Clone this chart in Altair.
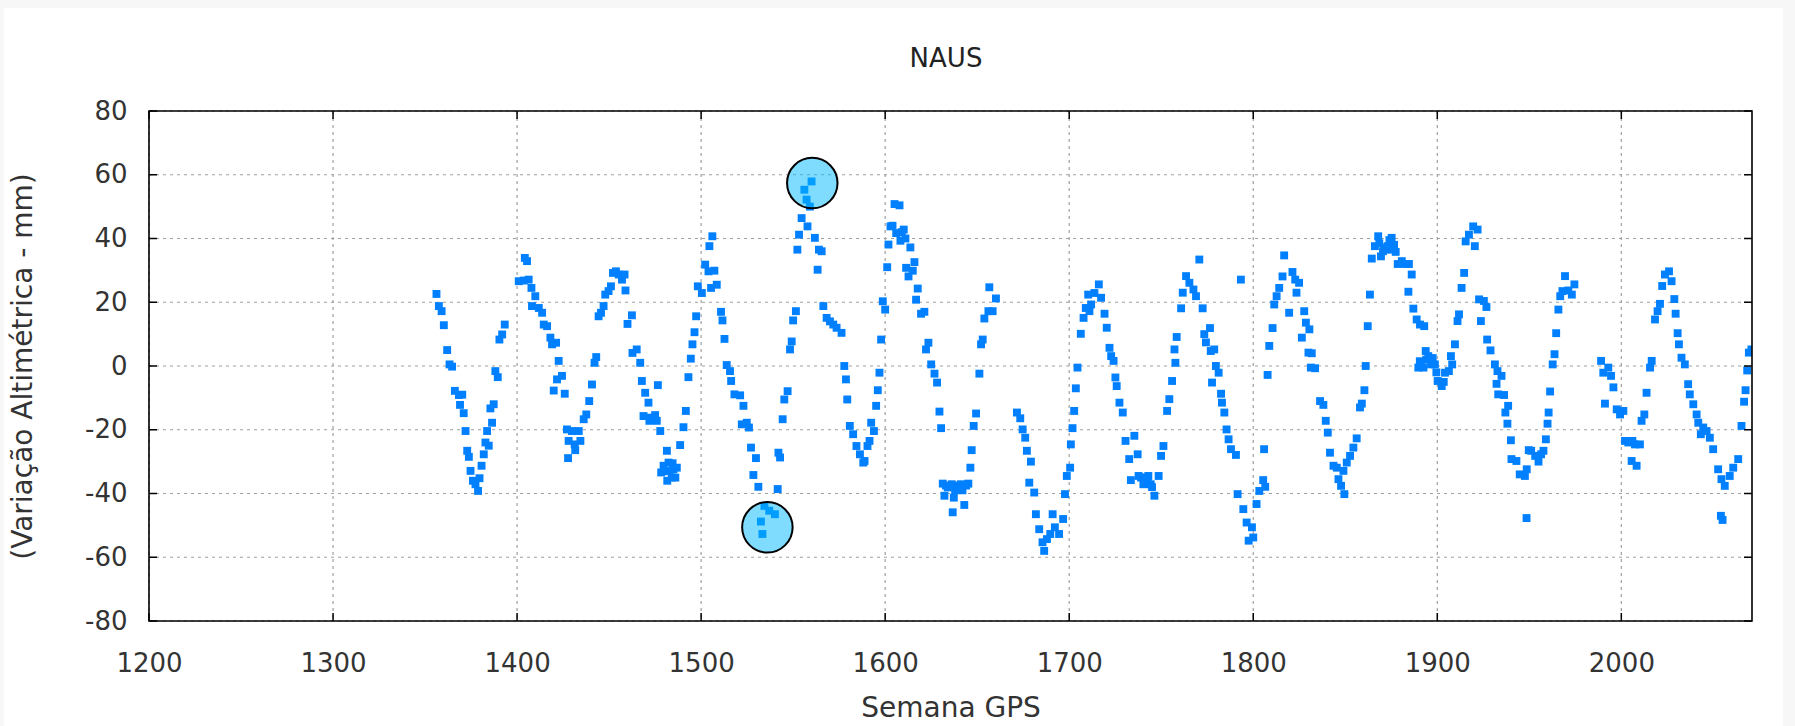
import altair as alt
import pandas as pd

# ---------------- data ----------------
title_text = ["NAUS"]

weeks = [
    1356.2, 1357.5, 1359.0, 1360.2, 1362.0, 1363.3, 1364.7, 1366.2, 1368.4, 1369.0,
    1370.2, 1371.0, 1372.0, 1372.9, 1373.8, 1374.7, 1376.0, 1377.4, 1378.8, 1379.6,
    1380.7, 1381.9, 1382.8, 1383.7, 1384.6, 1385.5, 1386.4, 1387.3, 1388.2, 1389.5,
    1390.4, 1391.9, 1393.3, 1400.9, 1403.6, 1404.2, 1405.4, 1406.3, 1407.8, 1408.1,
    1409.9, 1411.8, 1413.6, 1414.5, 1416.3, 1418.1, 1419.0, 1419.9, 1421.2, 1421.7,
    1422.6, 1424.4, 1425.9, 1427.1, 1427.7, 1428.0, 1429.8, 1431.3, 1431.6, 1433.5,
    1434.4, 1436.2, 1437.6, 1439.2, 1440.7, 1442.1, 1443.0, 1444.3, 1445.6, 1447.0,
    1447.9, 1449.7, 1451.0, 1452.1, 1453.7, 1455.2, 1457.0, 1458.4, 1458.9, 1460.0,
    1462.4, 1462.7, 1465.0, 1466.9, 1467.8, 1468.7, 1469.6, 1471.4, 1471.9, 1472.3,
    1475.0, 1475.9, 1476.5, 1477.8, 1478.3, 1479.6, 1481.4, 1481.6, 1482.3, 1484.1,
    1485.0, 1486.8, 1488.6, 1490.4, 1491.7, 1493.1, 1494.4, 1495.3, 1496.4, 1497.3,
    1498.2, 1500.4, 1502.2, 1504.0, 1504.5, 1505.4, 1506.1, 1507.2, 1508.5, 1510.8,
    1511.6, 1512.7, 1513.9, 1515.7, 1516.3, 1518.1, 1521.2, 1522.1, 1523.0, 1524.8,
    1526.0, 1527.1, 1528.4, 1529.8, 1531.1, 1532.5, 1533.3, 1534.4, 1537.0, 1540.1,
    1541.6, 1542.0, 1542.9, 1544.3, 1545.2, 1547.0, 1548.3, 1549.2, 1550.0, 1551.5,
    1552.3, 1553.2, 1554.6, 1556.1, 1557.3, 1557.8, 1559.1, 1560.0, 1561.8, 1563.3,
    1564.0, 1565.5, 1566.4, 1568.2, 1570.0, 1571.8, 1573.6, 1576.3, 1577.8, 1578.7,
    1579.4, 1580.8, 1582.6, 1584.4, 1586.3, 1588.1, 1588.8, 1590.4, 1591.5, 1592.4,
    1593.9, 1595.1, 1596.0, 1596.9, 1597.8, 1598.7, 1600.0, 1601.1, 1601.8, 1602.9,
    1605.1, 1606.0, 1607.8, 1608.3, 1610.1, 1611.4, 1612.7, 1613.7, 1615.0, 1615.9,
    1616.8, 1617.7, 1619.5, 1621.3, 1622.2, 1623.5, 1625.0, 1626.8, 1628.2, 1629.5,
    1630.4, 1631.3, 1632.2, 1634.0, 1636.2, 1636.7, 1637.3, 1639.1, 1641.2, 1643.0,
    1645.2, 1646.3, 1647.0, 1648.1, 1649.4, 1651.2, 1652.1, 1653.0, 1653.9, 1656.1,
    1656.6, 1658.4, 1660.2, 1671.6, 1673.4, 1674.7, 1676.1, 1677.0, 1678.3, 1679.2,
    1681.0, 1681.9, 1683.7, 1685.5, 1686.4, 1687.9, 1689.7, 1691.0, 1692.2, 1694.5,
    1696.7, 1697.7, 1698.7, 1700.5, 1700.9, 1701.8, 1702.7, 1703.6, 1704.5, 1706.3,
    1707.8, 1709.0, 1710.3, 1711.0, 1711.9, 1713.7, 1716.1, 1717.3, 1719.2, 1720.4,
    1721.9, 1722.8, 1724.1, 1725.1, 1725.8, 1727.3, 1729.1, 1730.6, 1732.6, 1733.5,
    1735.4, 1737.2, 1737.7, 1740.3, 1742.6, 1744.3, 1746.3, 1748.6, 1749.9, 1751.2,
    1753.2, 1754.4, 1755.9, 1757.2, 1757.7, 1758.4, 1760.8, 1761.7, 1763.5, 1765.3,
    1767.5, 1768.9, 1770.7, 1772.5, 1773.4, 1774.3, 1776.5, 1776.9, 1777.6, 1778.8,
    1779.7, 1781.2, 1782.5, 1783.0, 1784.3, 1785.5, 1786.6, 1787.9, 1790.6, 1791.5,
    1793.3, 1794.6, 1796.4, 1797.5, 1799.3, 1800.0, 1801.8, 1803.3, 1805.4, 1805.9,
    1806.5, 1807.8, 1808.7, 1810.5, 1811.4, 1812.7, 1814.1, 1815.9, 1816.8, 1819.5,
    1821.3, 1822.8, 1823.5, 1824.9, 1826.4, 1827.7, 1828.6, 1830.0, 1830.5, 1831.3,
    1831.8, 1833.6, 1836.3, 1838.1, 1839.4, 1840.5, 1841.7, 1843.6, 1845.4, 1846.3,
    1847.7, 1849.0, 1849.5, 1850.8, 1852.6, 1854.4, 1856.2, 1858.0, 1859.0, 1860.4,
    1861.1, 1862.2, 1863.4, 1864.4, 1866.1, 1867.9, 1869.4, 1871.2, 1873.1, 1875.2,
    1875.6, 1877.4, 1878.5, 1880.7, 1882.5, 1884.3, 1884.6, 1886.1, 1887.0, 1888.8,
    1889.7, 1890.6, 1891.1, 1892.9, 1893.7, 1895.1, 1896.6, 1898.7, 1900.2, 1902.4,
    1904.2, 1906.3, 1907.4, 1908.1, 1909.6, 1911.0, 1911.8, 1913.2, 1914.6, 1915.4,
    1917.2, 1919.5, 1920.4, 1921.9, 1922.7, 1923.7, 1925.3, 1926.7, 1927.1, 1928.9,
    1931.3, 1932.2, 1932.7, 1933.1, 1934.9, 1936.3, 1937.0, 1938.1, 1938.5, 1940.0,
    1940.3, 1943.0, 1944.8, 1947.6, 1948.5, 1948.6, 1949.7, 1951.0, 1953.2, 1955.0,
    1956.4, 1957.7, 1959.0, 1959.9, 1960.5, 1961.3, 1962.7, 1963.7, 1964.6, 1965.8,
    1966.8, 1968.0, 1969.4, 1971.2, 1973.1, 1974.5, 1989.0, 1990.2, 1991.1, 1992.9,
    1994.4, 1995.7, 1997.5, 1999.3, 2001.1, 2002.0, 2003.8, 2005.6, 2006.0, 2007.4,
    2008.3, 2010.1, 2011.0, 2012.5, 2013.7, 2015.6, 2016.5, 2018.3, 2019.7, 2021.0,
    2022.2, 2023.7, 2025.9, 2027.3, 2028.8, 2029.5, 2030.6, 2031.3, 2032.7, 2034.5,
    2036.3, 2037.2, 2039.1, 2040.9, 2041.8, 2043.2, 2044.5, 2046.3, 2048.1, 2049.9,
    2052.6, 2054.1, 2054.4, 2055.0, 2056.2, 2058.9, 2060.8, 2063.5, 2065.3, 2066.7,
    2067.5, 2068.4, 2069.3, 2070.7,
]
values = [
    22.6, 18.8, 17.2, 12.8, 5.0, 0.5, -0.2, -7.8, -9.1, -12.2,
    -9.0, -14.8, -20.4, -26.6, -28.5, -32.9, -36.0, -37.1, -39.2, -35.2,
    -31.3, -27.7, -24.0, -20.4, -25.0, -13.3, -17.8, -12.0, -1.6, -3.5,
    8.3, 9.9, 13.0, 26.6, 26.8, 33.9, 32.9, 27.1, 24.5, 18.8,
    21.9, 18.2, 16.7, 13.0, 12.5, 8.9, 6.8, -7.7, 7.3, -4.2,
    1.6, -3.1, -8.7, -19.9, -28.9, -23.5, -20.4, -24.6, -26.4, -20.4,
    -23.5, -16.7, -15.2, -11.0, -5.8, 1.0, 2.8, 15.6, 16.7, 18.8,
    22.4, 23.5, 25.0, 29.2, 29.7, 28.7, 27.1, 28.7, 23.7, 13.2,
    15.9, 4.1, 5.2, 1.0, -4.7, -15.7, -8.4, -11.5, -17.2, -16.2,
    -15.4, -17.2, -6.0, -20.4, -33.4, -31.3, -26.6, -36.0, -30.3, -35.0,
    -32.4, -31.9, -24.8, -19.2, -14.1, -3.5, 2.3, 6.8, 10.6, 15.6,
    25.0, 22.9, 31.8, 29.7, 37.6, 24.5, 40.7, 29.9, 25.5, 17.0,
    14.3, 8.5, 0.3, -1.6, -4.7, -8.9, -9.2, -18.3, -12.5, -17.8,
    -19.3, -25.6, -34.2, -28.9, -37.9, -48.8, -52.7, -43.9, -45.4, -46.5,
    -38.6, -27.2, -28.7, -16.7, -10.5, -7.9, 5.2, 7.7, 14.3, 17.2,
    36.5, 41.2, 46.4, 55.3, 52.2, 43.8, 50.0, 57.9, 40.2, 30.2,
    36.5, 36.0, 18.8, 15.1, 14.0, 13.0, 12.0, 10.4, 0.0, -4.2,
    -10.5, -18.8, -21.4, -25.1, -27.7, -30.3, -29.8, -25.1, -23.5, -17.8,
    -20.4, -12.5, -7.6, -2.1, 8.3, 20.3, 17.7, 31.0, 38.1, 43.8,
    50.8, 41.7, 50.4, 39.3, 42.8, 30.8, 28.1, 37.2, 29.9, 32.6,
    20.8, 24.3, 16.4, 17.0, 5.2, 7.3, 0.5, -2.4, -5.2, -14.3,
    -19.5, -36.9, -40.7, -38.1, -37.1, -45.9, -41.3, -38.6, -37.1, -43.6,
    -36.9, -31.9, -26.4, -18.8, -14.9, -2.4, 6.8, 8.3, 14.9, 17.2,
    24.7, 17.2, 21.2, -14.6, -16.4, -19.9, -22.5, -26.6, -36.6, -30.0,
    -39.7, -46.5, -51.2, -55.3, -58.0, -54.3, -52.7, -46.5, -50.6, -52.7,
    -48.0, -40.2, -34.5, -31.9, -24.6, -19.5, -14.1, -7.0, -0.5, 10.1,
    15.1, 18.2, 22.4, 17.2, 19.3, 22.9, 25.6, 21.4, 16.4, 12.0,
    5.7, 3.1, 1.6, -3.6, -6.3, -11.5, -14.6, -23.5, -29.2, -35.8,
    -21.9, -27.7, -34.5, -37.1, -36.0, -37.1, -40.7, -34.5, -28.2, -25.1,
    -14.1, -10.4, -4.7, 5.2, 1.0, 9.1, 18.1, 23.0, 28.2, 26.1,
    24.0, 21.9, 33.4, 18.1, 10.0, 7.4, 11.9, 4.7, -5.2, 5.2,
    0.0, -2.1, -8.7, -11.5, -14.6, -19.9, -23.0, -26.1, -27.9, -40.2,
    27.1, -44.9, -49.1, -54.8, -50.6, -53.8, -43.3, -39.2, -35.8, -26.1,
    -37.9, -2.8, 6.3, 11.9, 19.3, 21.9, 24.5, 28.1, 34.7, 16.7,
    29.5, 27.1, 23.0, 26.1, 8.9, 17.2, 13.6, 4.2, 11.5, -0.5,
    4.0, -0.7, -11.0, -12.2, -17.2, -20.9, -27.2, -31.3, -31.9, -35.5,
    -37.6, -32.9, -40.2, -30.3, -28.2, -25.6, -22.7, -13.0, -11.8, -7.6,
    0.0, 12.5, 22.4, 33.7, 37.6, 40.7, 34.4, 37.2, 37.6, 40.2,
    36.5, 35.8, 32.0, 32.9, 32.0, 23.3, 32.0, 28.7, 18.0, 14.6,
    -0.5, 13.0, 0.7, 12.5, 4.7, 3.1, 0.5, 0.5, -4.7, -6.3,
    -2.1, -1.6, 3.1, 0.5, 6.8, 14.1, 16.2, 24.5, 29.2, 39.1,
    41.2, 43.8, 37.6, 42.8, 20.9, 14.1, 20.4, 18.5, 8.3, 4.9,
    0.5, -5.6, -1.6, -8.9, -3.1, -9.1, -14.6, -18.1, -12.5, -23.3,
    -29.2, -29.8, -34.0, -34.5, -47.7, -32.4, -26.4, -26.6, -28.2, -30.0,
    -27.7, -26.6, -23.0, -18.1, -14.6, -8.0, 0.5, 3.7, 10.3, 17.7,
    21.9, 23.5, 28.2, 23.7, 22.4, 25.6, 1.6, -2.1, -11.8, -0.5,
    -3.1, -6.7, -13.6, -15.2, -14.1, -23.5, -24.0, -29.8, -23.5, -24.6,
    -31.3, -24.6, -17.2, -15.2, -8.4, -0.5, 1.6, 14.6, 17.2, 19.5,
    25.1, 28.7, 29.7, 26.6, 21.0, 16.4, 10.3, 6.8, 2.6, 0.5,
    -5.7, -8.9, -12.0, -15.2, -17.8, -21.4, -19.3, -20.4, -22.5, -26.1,
    -32.4, -47.0, -35.5, -48.3, -37.6, -34.5, -31.9, -29.2, -18.8, -11.2,
    -7.6, -1.4, 4.2, 5.2,
]

# extra points inside the dense clusters
cluster_weeks = [
    1480.5, 1483.0, 1484.5, 1486.0, 1604.0, 1609.0, 1611.0,
    1633.0, 1638.0, 1640.0, 1642.0, 1644.0, 1739.0, 1741.0, 1743.0, 1745.0,
    1868.5, 1870.5, 1872.0, 1874.0, 1876.5, 1890.5, 1892.5, 1894.0, 1897.5,
    1899.5, 1903.5,
]
cluster_values = [
    -33.0, -33.0, -30.5, -35.0, 44.0, 42.0, 40.0,
    -37.5, -39.0, -37.5, -39.0, -37.5, -35.0, -35.0, -34.5, -38.0,
    38.5, 36.0, 36.5, 39.5, 38.0, 1.5, -0.5, 2.0, 2.5,
    -2.0, -5.0,
]

circle_weeks = [1560.4, 1536.0]
circle_values = [57.4, -50.6]

x_ticks = [1200, 1300, 1400, 1500, 1600, 1700, 1800, 1900, 2000]
y_ticks = [-80, -60, -40, -20, 0, 20, 40, 60, 80]

x_title = "Semana GPS"
y_title = "(Variação Altimétrica - mm)"

# ---------------- layout / style ----------------
W, H = 1603, 510
PAD_L, PAD_T, PAD_R, PAD_B = 149, 111, 43, 105
FONT = "DejaVu Sans"
TXT = "#333333"
EDGE = "#f7f7f7"

pts = pd.DataFrame({"week": weeks + cluster_weeks, "val": values + cluster_values})
circ = pd.DataFrame({"week": circle_weeks, "val": circle_values})
xt = pd.DataFrame({"week": x_ticks})
yt = pd.DataFrame({"val": y_ticks})
one = pd.DataFrame({"k": [0]})
ttl = pd.DataFrame({"t": title_text})

xscale = alt.Scale(domain=[1200, 2071], nice=False, zero=False)
yscale = alt.Scale(domain=[-80, 80], nice=False, zero=False)

xaxis = alt.Axis(
    values=x_ticks, labelExpr="'' + datum.value", ticks=False, domain=False, grid=False,
    labelFont=FONT, labelFontSize=26, labelColor=TXT, labelPadding=29,
    labelFlush=False, labelOverlap=False,
    titleFont=FONT, titleFontSize=28, titleFontWeight="normal", titleColor=TXT,
    titleY=87, titleBaseline="middle",
)
yaxis = alt.Axis(
    values=y_ticks, labelExpr="'' + datum.value", ticks=False, domain=False, grid=False,
    labelFont=FONT, labelFontSize=26, labelColor=TXT, labelPadding=22,
    labelFlush=False, labelOverlap=False,
    titleFont=FONT, titleFontSize=28, titleFontWeight="normal", titleColor=TXT,
    titleX=-126, titleY=H / 2, titleAngle=270, titleBaseline="middle", titleAlign="center",
)


def X():
    return alt.X("week:Q", scale=xscale, axis=xaxis, title=x_title)


def Y():
    return alt.Y("val:Q", scale=yscale, axis=yaxis, title=y_title)


# thin light-grey border of the picture (strips at the edges)
strip_top = alt.Chart(one).mark_rect(color=EDGE).encode(
    x=alt.value(-PAD_L), x2=alt.value(W + PAD_R), y=alt.value(-PAD_T), y2=alt.value(-PAD_T + 8)
)
strip_left = alt.Chart(one).mark_rect(color=EDGE).encode(
    x=alt.value(-PAD_L), x2=alt.value(-PAD_L + 4), y=alt.value(-PAD_T), y2=alt.value(H + PAD_B)
)
strip_right = alt.Chart(one).mark_rect(color=EDGE).encode(
    x=alt.value(W + PAD_R - 12), x2=alt.value(W + PAD_R), y=alt.value(-PAD_T), y2=alt.value(H + PAD_B)
)

grid_style = dict(color="#a0a0a0", strokeDash=[3, 4], strokeWidth=1.2)
vgrid = alt.Chart(xt).mark_rule(**grid_style).encode(x=X(), y=alt.value(0), y2=alt.value(H))
hgrid = alt.Chart(yt).mark_rule(**grid_style).encode(y=Y(), x=alt.value(0), x2=alt.value(W))

points = alt.Chart(pts).mark_square(size=62, color="#0080ff", opacity=1, clip=True).encode(
    x=X(), y=Y()
)

circles = alt.Chart(circ).mark_circle(
    size=2550, fill="#00b9ff", fillOpacity=0.5, stroke="black", strokeWidth=2, strokeOpacity=1
).encode(x=X(), y=Y())

tick_style = dict(color="black", strokeWidth=1.5)
ticks_left = alt.Chart(yt).mark_rule(**tick_style).encode(y=Y(), x=alt.value(0), x2=alt.value(8))
ticks_right = alt.Chart(yt).mark_rule(**tick_style).encode(y=Y(), x=alt.value(W - 8), x2=alt.value(W))
ticks_bottom = alt.Chart(xt).mark_rule(**tick_style).encode(x=X(), y=alt.value(H - 8), y2=alt.value(H))
ticks_top = alt.Chart(xt).mark_rule(**tick_style).encode(x=X(), y=alt.value(0), y2=alt.value(8))

frame = alt.Chart(one).mark_rect(filled=False, stroke="black", strokeWidth=1.6).encode(
    x=alt.value(0), x2=alt.value(W), y=alt.value(0), y2=alt.value(H)
)

title = alt.Chart(ttl).mark_text(
    font=FONT, fontSize=26, color="#222222", align="center", baseline="middle"
).encode(text="t:N", x=alt.value(797), y=alt.value(59 - PAD_T))

chart = alt.layer(
    strip_top, strip_left, strip_right, vgrid, hgrid, points, circles,
    ticks_left, ticks_right, ticks_bottom, ticks_top, frame, title,
).properties(
    width=W,
    height=H,
    autosize=alt.AutoSizeParams(type="none"),
    padding={"left": PAD_L, "top": PAD_T, "right": PAD_R, "bottom": PAD_B},
    background="white",
).configure_view(strokeWidth=0)

chart.save("out.html", embed_options={"renderer": "svg", "actions": False})
